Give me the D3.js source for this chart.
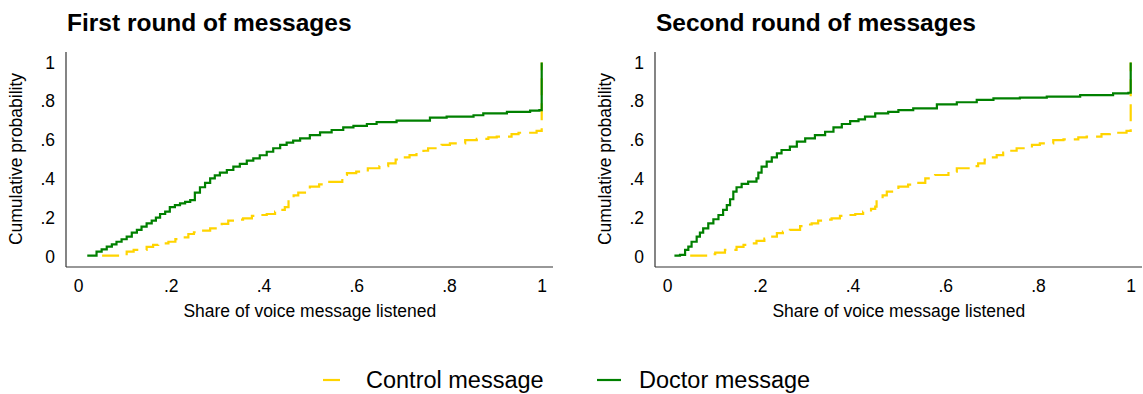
<!DOCTYPE html>
<html>
<head>
<meta charset="utf-8">
<script src="https://cdn.jsdelivr.net/npm/d3@7"></script>
<style>
  body{margin:0;background:#fff;}
  svg text{font-family:"Liberation Sans",Arial,Helvetica,sans-serif;fill:#000;}
</style>
</head>
<body>
<svg id="chart" width="1143" height="394"></svg>
<script>
// tick values + labels (stata style, no leading zero)
var xTicks = [0, .2, .4, .6, .8, 1]
var xTickLabels = ["0", ".2", ".4", ".6", ".8", "1"]
var yTicks = [0, .2, .4, .6, .8, 1]
var yTickLabels = ["0", ".2", ".4", ".6", ".8", "1"]
var panelTitles = ["First round of messages", "Second round of messages"]
var legendLabels = ["Control message", "Doctor message"]

var round1Control = [[0.052,0.004],[0.095,0.012],[0.105,0.025],[0.12,0.034],[0.148,0.05],[0.162,0.06],[0.173,0.068],
  [0.195,0.076],[0.21,0.09],[0.22,0.099],[0.238,0.116],[0.25,0.125],[0.263,0.133],[0.285,0.145],[0.30,0.158],[0.31,0.168],
  [0.324,0.185],[0.34,0.19],[0.356,0.197],[0.375,0.209],[0.39,0.214],[0.407,0.219],[0.425,0.231],[0.435,0.24],[0.446,0.254],
  [0.454,0.30],[0.465,0.315],[0.475,0.329],[0.50,0.36],[0.52,0.372],[0.536,0.385],[0.57,0.42],[0.58,0.43],[0.60,0.437],
  [0.625,0.455],[0.65,0.466],[0.669,0.48],[0.685,0.50],[0.70,0.511],[0.715,0.523],[0.73,0.535],[0.745,0.545],[0.755,0.558],
  [0.784,0.575],[0.802,0.583],[0.835,0.60],[0.86,0.606],[0.885,0.614],[0.903,0.618],[0.935,0.631],[0.95,0.638],[0.989,0.648],[1,1]]

var round1Doctor = [[0.020,0.005],[0.040,0.025],[0.051,0.037],[0.062,0.051],[0.073,0.063],[0.083,0.076],[0.094,0.089],
  [0.105,0.102],[0.116,0.123],[0.127,0.137],[0.137,0.154],[0.148,0.171],[0.159,0.185],[0.168,0.2],[0.177,0.219],[0.188,0.231],
  [0.198,0.254],[0.209,0.265],[0.220,0.274],[0.231,0.282],[0.242,0.291],[0.252,0.329],[0.263,0.357],[0.274,0.380],[0.285,0.403],
  [0.295,0.418],[0.306,0.432],[0.321,0.446],[0.335,0.463],[0.349,0.477],[0.364,0.494],[0.378,0.506],[0.392,0.522],[0.407,0.540],
  [0.421,0.558],[0.436,0.575],[0.450,0.587],[0.464,0.597],[0.479,0.609],[0.500,0.626],[0.522,0.640],[0.547,0.652],[0.572,0.666],
  [0.594,0.673],[0.623,0.683],[0.644,0.693],[0.687,0.700],[0.759,0.716],[0.795,0.721],[0.853,0.728],[0.874,0.738],[0.925,0.745],
  [0.975,0.752],[0.995,0.755],[1,1]]

var round2Control = [[0.05,0.004],[0.09,0.012],[0.104,0.02],[0.125,0.034],[0.15,0.05],[0.165,0.06],[0.175,0.068],[0.193,0.081],
  [0.21,0.092],[0.222,0.102],[0.237,0.12],[0.25,0.128],[0.265,0.137],[0.287,0.157],[0.30,0.165],[0.312,0.171],[0.326,0.185],
  [0.34,0.19],[0.355,0.197],[0.373,0.209],[0.39,0.214],[0.406,0.219],[0.423,0.231],[0.44,0.245],[0.449,0.257],[0.452,0.30],
  [0.465,0.315],[0.474,0.334],[0.499,0.36],[0.52,0.37],[0.539,0.38],[0.557,0.403],[0.578,0.42],[0.607,0.437],[0.625,0.455],
  [0.654,0.466],[0.671,0.48],[0.685,0.5],[0.697,0.511],[0.711,0.523],[0.725,0.535],[0.736,0.545],[0.754,0.558],[0.787,0.575],
  [0.804,0.583],[0.833,0.6],[0.855,0.604],[0.887,0.614],[0.905,0.618],[0.937,0.631],[0.955,0.638],[0.991,0.648],[1,1]]

var round2Doctor = [[0.016,0.005],[0.028,0.008],[0.039,0.034],[0.046,0.051],[0.053,0.076],[0.064,0.102],[0.071,0.123],
  [0.078,0.145],[0.089,0.171],[0.1,0.192],[0.111,0.214],[0.121,0.24],[0.129,0.265],[0.136,0.295],[0.143,0.334],[0.150,0.357],
  [0.161,0.374],[0.175,0.386],[0.193,0.403],[0.197,0.432],[0.204,0.463],[0.215,0.489],[0.226,0.511],[0.237,0.532],[0.247,0.549],
  [0.265,0.566],[0.28,0.592],[0.298,0.609],[0.319,0.626],[0.341,0.643],[0.359,0.666],[0.377,0.683],[0.395,0.698],[0.413,0.707],
  [0.427,0.721],[0.449,0.738],[0.477,0.746],[0.499,0.755],[0.531,0.764],[0.582,0.784],[0.625,0.795],[0.668,0.807],[0.704,0.815],
  [0.761,0.819],[0.819,0.824],[0.891,0.832],[0.962,0.841],[0.995,0.844],[1,1]]

var colors = {control: "#ffd400", doctor: "#008000"}
var dash = "17,8"

var svg = d3.select("#chart")

function drawPanel(left, title, control, doctor){
  // axis line sits at `left`, data range is inset a bit like stata does
  var x = d3.scaleLinear().domain([0, 1]).range([left + 12, left + 475.7])
  var y = d3.scaleLinear().domain([0, 1]).range([256.5, 62.5])
  var g = svg.append("g")

  var xAxis = g.append("g").attr("transform", "translate(0,267)")
    .call(d3.axisBottom(x).tickValues(xTicks).tickFormat(function(d, i){ return xTickLabels[i] })
      .tickSize(0).tickPadding(13))
  xAxis.select(".domain").remove()
  xAxis.selectAll("text").attr("font-size", "17.5px").attr("font-family", null)

  var yAxis = g.append("g").attr("transform", "translate(" + left + ",0)")
    .call(d3.axisLeft(y).tickValues(yTicks).tickFormat(function(d, i){ return yTickLabels[i] })
      .tickSize(0).tickPadding(11))
  yAxis.select(".domain").remove()
  yAxis.selectAll("text").attr("font-size", "17.5px").attr("font-family", null)

  // plain axis lines
  g.append("line").attr("x1", left).attr("x2", left + 487).attr("y1", 267).attr("y2", 267)
    .attr("stroke", "#333").attr("stroke-width", 1.2)
  g.append("line").attr("x1", left).attr("x2", left).attr("y1", 52).attr("y2", 267)
    .attr("stroke", "#333").attr("stroke-width", 1.2)

  var line = d3.line().x(function(d){ return x(d[0]) }).y(function(d){ return y(d[1]) })
    .curve(d3.curveStepAfter)

  g.append("path").datum(control).attr("d", line).attr("fill", "none")
    .attr("stroke", colors.control).attr("stroke-width", 2.2).attr("stroke-dasharray", dash)
  g.append("path").datum(doctor).attr("d", line).attr("fill", "none")
    .attr("stroke", colors.doctor).attr("stroke-width", 2.2)

  g.append("text").attr("x", left + 1).attr("y", 31).attr("font-size", "24.5px")
    .attr("font-weight", "bold").text(title)
  g.append("text").attr("x", (x(0) + x(1)) / 2).attr("y", 317).attr("text-anchor", "middle")
    .attr("font-size", "17.5px").text("Share of voice message listened")
  g.append("text").attr("transform", "translate(" + (left - 44) + ",159) rotate(-90)")
    .attr("text-anchor", "middle").attr("font-size", "17.5px").text("Cumulative probability")
}

drawPanel(66, panelTitles[0], round1Control, round1Doctor)
drawPanel(655, panelTitles[1], round2Control, round2Doctor)

// legend
var legend = svg.append("g")
var keys = [{x: 323, color: colors.control, dash: dash}, {x: 597, color: colors.doctor, dash: null}]
keys.forEach(function(k, i){
  legend.append("line").attr("x1", k.x).attr("x2", k.x + 24).attr("y1", 380).attr("y2", 380)
    .attr("stroke", k.color).attr("stroke-width", 2.2).attr("stroke-dasharray", k.dash)
  legend.append("text").attr("x", k.x + 43 - (i ? 1 : 0)).attr("y", 388).attr("font-size", "23.5px")
    .text(legendLabels[i])
})
</script>
</body>
</html>
